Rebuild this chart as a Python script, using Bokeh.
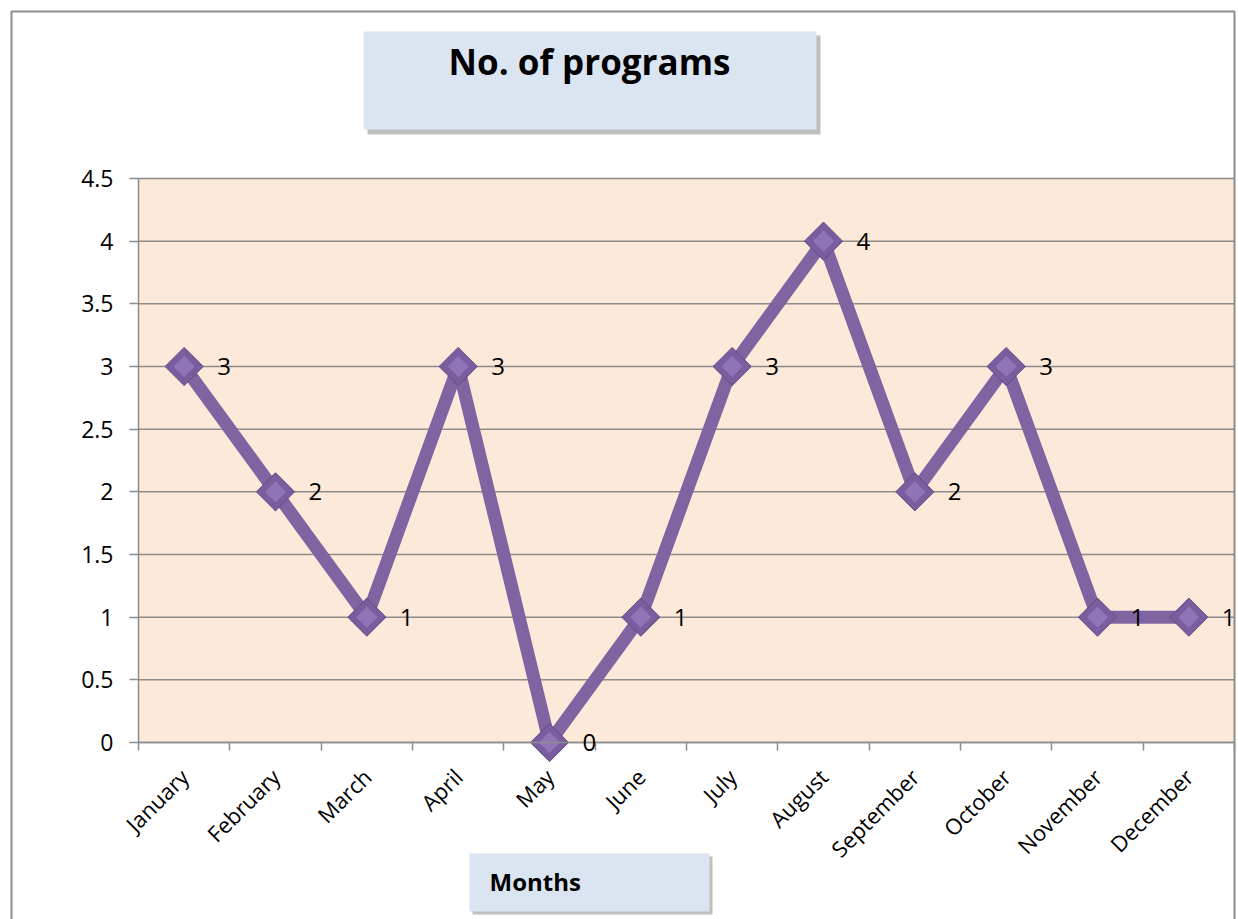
import math
from bokeh.plotting import figure
from bokeh.models import (Range1d, FixedTicker, ColumnDataSource, LabelSet, Label,
                          BoxAnnotation, NumeralTickFormatter)
from bokeh.core.properties import value
from bokeh.embed import file_html
from bokeh.resources import INLINE

# ---- data ----
months = ["January", "February", "March", "April", "May", "June", "July",
          "August", "September", "October", "November", "December"]
programs = [3, 2, 1, 3, 0, 1, 3, 4, 2, 3, 1, 1]
y_ticks = [0, 0.5, 1, 1.5, 2, 2.5, 3, 3.5, 4, 4.5]
chart_title = "No. of programs"
x_title = "Months"

# ---- layout (pixels on the canvas) ----
W, H = 1238, 919
AL, AR, AT, AB = 138, 1234, 178, 742      # plot-area edges
NX = len(months)
YMAX = y_ticks[-1]
PX = (AR - AL) / NX                        # px per category
PY = (AB - AT) / YMAX                      # px per unit

def dx(cx):
    return (cx - AL) / PX

def dy(cy):
    return (AB - cy) / PY

FONT = "Open Sans"
GRID = "#8c8c8c"
PURPLE = "#8064a2"

# the frame covers the whole canvas; axes are pinned at 0 so nothing gets clipped
p = figure(width=W, height=H, output_backend="svg", toolbar_location=None,
           x_range=Range1d(dx(0), dx(W)), y_range=Range1d(dy(H), dy(0)),
           min_border_left=0, min_border_right=0, min_border_top=0, min_border_bottom=0)
p.background_fill_color = "white"
p.border_fill_color = "white"
p.outline_line_color = None
p.xgrid.visible = False
p.ygrid.visible = False

# plot area background
p.add_layout(BoxAnnotation(left=0, right=NX, bottom=0, top=YMAX, fill_color="#fde9d9",
                           fill_alpha=1, line_color=None, level="underlay"))

# horizontal gridlines
p.segment(x0=[0] * len(y_ticks), y0=y_ticks, x1=[NX] * len(y_ticks), y1=y_ticks,
          line_color=GRID, line_width=1.5)

# x axis: labels at category centres, tick marks at boundaries
xpos = [i + 0.5 for i in range(NX)]
p.xaxis.fixed_location = 0
p.xaxis.bounds = (0, NX)
p.xaxis.ticker = FixedTicker(ticks=xpos, minor_ticks=list(range(NX + 1)))
p.xaxis.major_label_overrides = {xp: m for xp, m in zip(xpos, months)}
p.xaxis.major_tick_out = 0
p.xaxis.major_tick_in = 0
p.xaxis.minor_tick_out = 8
p.xaxis.minor_tick_in = 0
p.xaxis.minor_tick_line_color = GRID
p.xaxis.minor_tick_line_width = 1.5
p.xaxis.axis_line_color = GRID
p.xaxis.axis_line_width = 1.5
p.xaxis.major_label_orientation = math.pi / 4
p.xaxis.major_label_standoff = 22
p.xaxis.major_label_text_font = FONT
p.xaxis.major_label_text_font_size = "22px"
p.xaxis.major_label_text_color = "black"

p.yaxis.fixed_location = 0
p.yaxis.bounds = (0, YMAX)
p.yaxis.ticker = FixedTicker(ticks=y_ticks, minor_ticks=[])
p.yaxis.formatter = NumeralTickFormatter(format="0.[0]")
p.yaxis.major_tick_out = 9
p.yaxis.major_tick_in = 0
p.yaxis.major_tick_line_color = GRID
p.yaxis.major_tick_line_width = 1.5
p.yaxis.axis_line_color = GRID
p.yaxis.axis_line_width = 1.5
p.yaxis.major_label_standoff = 16
p.yaxis.major_label_text_font = FONT
p.yaxis.major_label_text_font_size = "23px"
p.yaxis.major_label_text_color = "black"

def box(l, t, r, b, **kw):
    return BoxAnnotation(left=dx(l), right=dx(r), top=dy(t), bottom=dy(b), **kw)

# outer chart border (bottom edge falls below the picture)
p.add_layout(box(11, 11, 1234, 1100, fill_alpha=0, line_color=GRID, line_alpha=1,
                 line_width=2))

# title box with shadow
p.add_layout(box(367, 35, 820, 134, fill_color="#bfbfbf", fill_alpha=1, line_color=None,
                 level="underlay"))
p.add_layout(box(363, 31, 816, 129, fill_color="#dbe5f1", fill_alpha=1, line_color=None,
                 level="underlay"))
p.add_layout(Label(x=dx(589), y=dy(61), text=chart_title, text_align="center",
                   text_baseline="middle", text_font=FONT, text_font_style="bold",
                   text_font_size="35px", text_color="black"))

# x-axis title box with shadow
p.add_layout(box(472, 856, 712, 914, fill_color="#bfbfbf", fill_alpha=1, line_color=None,
                 level="underlay"))
p.add_layout(box(469, 853, 709, 911, fill_color="#dbe5f1", fill_alpha=1, line_color=None,
                 level="underlay"))
p.add_layout(Label(x=dx(489), y=dy(881), text=x_title, text_align="left",
                   text_baseline="middle", text_font=FONT, text_font_style="bold",
                   text_font_size="24px", text_color="black"))

src = ColumnDataSource(dict(x=xpos, y=programs, label=[str(v) for v in programs]))
p.line("x", "y", source=src, line_width=13, line_color=PURPLE, line_join="round")
p.scatter("x", "y", source=src, marker="square", angle=math.pi / 4, size=27,
          fill_color="#7a5d9f", line_color="#5f4b82", line_width=1)
p.scatter("x", "y", source=src, marker="square", angle=math.pi / 4, size=15,
          fill_color="#8f74b6", line_color=None)

p.add_layout(LabelSet(x="x", y="y", text="label", source=src, x_offset=33,
                      text_baseline="middle", text_font=value(FONT),
                      text_font_size="24px", text_color="black"))

open("out.html", "w").write(file_html(p, INLINE))
